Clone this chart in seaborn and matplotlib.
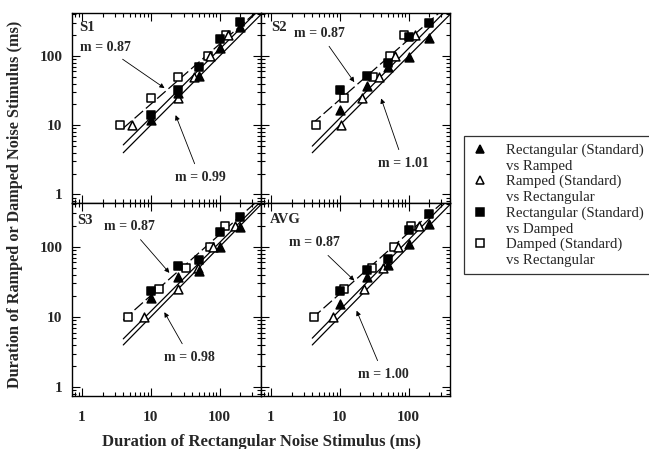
import numpy as np
import pandas as pd
import matplotlib
matplotlib.use("Agg")
import matplotlib.pyplot as plt
from matplotlib.lines import Line2D
import seaborn as sns

sns.set_style("ticks")
plt.rcParams["font.family"] = ["Liberation Serif", "DejaVu Serif"]

# ---------------- data ----------------
panels = ["S1", "S2", "S3", "AVG"]
standard = [10, 25, 50, 100, 200]          # standard durations (ms)

# Rectangular (Standard) vs Ramped: x = standard, y = matched ramped
rect_ramp_y = {
    "S1": [12, 29, 51, 129, 265],
    "S2": [16.5, 37, 70, 97, 182],
    "S3": [18.5, 37.7, 45, 99, 190],
    "AVG": [15.3, 37, 55, 108, 210],
}
# Ramped (Standard) vs Rectangular: y = standard, x = matched rectangular
ramp_rect_x = {
    "S1": [5.4, 25, 43, 72, 134],
    "S2": [10.6, 20.8, 37, 64, 126],
    "S3": [8.0, 24.7, 49, 80, 168],
    "AVG": [8.0, 22.8, 42, 71, 140],
}
# Rectangular (Standard) vs Damped: x = standard, y = matched damped
rect_damp_y = {
    "S1": [14, 32, 70, 174, 310],
    "S2": [32, 51, 80, 190, 300],
    "S3": [23.8, 54, 65, 162, 265],
    "AVG": [23.8, 47, 67, 175, 290],
}
# Damped (Standard) vs Rectangular: y = standard, x = matched rectangular
damp_rect_x = {
    "S1": [3.6, 10, 25, 68, 125],
    "S2": [4.6, 11.6, 30, 54, 85],
    "S3": [4.7, 13.3, 33, 72, 119],
    "AVG": [4.3, 11.6, 29, 62, 108],
}

slope_damped = {"S1": 0.87, "S2": 0.87, "S3": 0.87, "AVG": 0.87}
slope_ramped = {"S1": 0.99, "S2": 1.01, "S3": 0.98, "AVG": 1.00}

# annotation positions (text centre, arrow tip) in data units
ann_damped = {
    "S1": ((2.17, 135), (15.9, 34.4)),
    "S2": ((5.14, 215), (16.3, 42)),
    "S3": ((4.89, 193), (18.7, 42.5)),
    "AVG": ((4.35, 114), (16.3, 33)),
}
ann_ramped = {
    "S1": ((52, 1.76), (23, 14)),
    "S2": ((84.6, 2.81), (40, 24.4)),
    "S3": ((37, 2.68), (15.8, 11.7)),
    "AVG": ((43, 1.53), (17.6, 12.3)),
}

series_names = [
    "Rectangular (Standard)\nvs Ramped",
    "Ramped (Standard)\nvs Rectangular",
    "Rectangular (Standard)\nvs Damped",
    "Damped (Standard)\nvs Rectangular",
]

rows = []
for p in panels:
    for sx, sy in zip(standard, rect_ramp_y[p]):
        rows.append((p, series_names[0], sx, sy))
    for sx, sy in zip(ramp_rect_x[p], standard):
        rows.append((p, series_names[1], sx, sy))
    for sx, sy in zip(standard, rect_damp_y[p]):
        rows.append((p, series_names[2], sx, sy))
    for sx, sy in zip(damp_rect_x[p], standard):
        rows.append((p, series_names[3], sx, sy))
df = pd.DataFrame(rows, columns=["panel", "series", "x", "y"])

styles = {
    series_names[0]: dict(marker="^", color="black", edgecolor="black"),
    series_names[1]: dict(marker="^", color="white", edgecolor="black"),
    series_names[2]: dict(marker="s", color="black", edgecolor="black"),
    series_names[3]: dict(marker="s", color="white", edgecolor="black"),
}
draw_order = [series_names[3], series_names[1], series_names[2], series_names[0]]

# ---------------- figure ----------------
W, H = 649, 449
fig = plt.figure(figsize=(W / 100, H / 100), dpi=100)
pw = 189 / W
lefts = [72 / W, 261 / W]
top_b, top_h = 1 - 203 / H, 190 / H
bot_b, bot_h = 1 - 396 / H, 193 / H
boxes = {
    "S1": [lefts[0], top_b, pw, top_h],
    "S2": [lefts[1], top_b, pw, top_h],
    "S3": [lefts[0], bot_b, pw, bot_h],
    "AVG": [lefts[1], bot_b, pw, bot_h],
}
label_pos = {"S1": (0.04, 0.925), "S2": (0.055, 0.925),
             "S3": (0.03, 0.91), "AVG": (0.045, 0.915)}

tick_font = dict(family=["Liberation Serif"], weight="bold", size=11)

for p in panels:
    ax = fig.add_axes(boxes[p])
    ax.set_xscale("log")
    ax.set_yscale("log")
    ax.set_xlim(0.72, 400)
    ax.set_ylim(0.75, 420)

    sub = df[df.panel == p]
    # regression lines (slopes as reported, through the centroid of each pair)
    xs = np.array([4.0, 450.0])
    tri = sub[sub.series.isin(series_names[:2])]
    sq = sub[sub.series.isin(series_names[2:])]
    lx_t, ly_t = np.log10(tri.x).mean(), np.log10(tri.y).mean()
    lx_s, ly_s = np.log10(sq.x).mean(), np.log10(sq.y).mean()
    mr, md = slope_ramped[p], slope_damped[p]
    y_r = 10 ** (ly_t + mr * (np.log10(xs) - lx_t))
    y_d = 10 ** (ly_s + md * (np.log10(xs) - lx_s))
    ax.plot(xs, xs, color="black", lw=0.9)
    ax.plot(xs, y_r, color="black", lw=0.9)
    ax.plot(xs, y_d, color="black", lw=0.9, dashes=(9, 3))

    for s in draw_order:
        d = sub[sub.series == s]
        sns.scatterplot(data=d, x="x", y="y", ax=ax, s=40, linewidth=1.1,
                        legend=False, zorder=5, **styles[s])

    # annotations
    (tx, ty), (ax_, ay_) = ann_damped[p]
    ax.annotate(f"m = {md:.2f}", xy=(ax_, ay_), xytext=(tx, ty),
                ha="center", va="center", fontsize=10, fontweight="bold",
                arrowprops=dict(arrowstyle="-|>", lw=0.6, color="black",
                                mutation_scale=7, shrinkA=3, shrinkB=0))
    (tx, ty), (ax_, ay_) = ann_ramped[p]
    ax.annotate(f"m = {mr:.2f}", xy=(ax_, ay_), xytext=(tx, ty),
                ha="center", va="center", fontsize=10, fontweight="bold",
                arrowprops=dict(arrowstyle="-|>", lw=0.6, color="black",
                                mutation_scale=7, shrinkA=3, shrinkB=0))

    ax.text(*label_pos[p], p, transform=ax.transAxes, ha="left", va="center",
            fontsize=10.5, fontweight="bold")

    ax.set_xlabel("")
    ax.set_ylabel("")
    ax.tick_params(which="both", direction="in", top=True, right=True,
                   color="black", width=0.8)
    ax.tick_params(which="major", length=5.5)
    ax.tick_params(which="minor", length=3)
    ax.tick_params(axis="x", pad=11)
    ax.tick_params(axis="y", pad=7)
    ax.set_xticks([1, 10, 100])
    ax.set_yticks([1, 10, 100])
    ax.set_xticklabels(["1", "10", "100"], fontdict=tick_font)
    ax.set_yticklabels(["1", "10", "100"], fontdict=tick_font)
    if p in ("S1", "S2"):
        ax.tick_params(axis="x", labelbottom=False)
    if p in ("S2", "AVG"):
        ax.tick_params(axis="y", labelleft=False)
    for sp in ax.spines.values():
        sp.set_color("black")
        sp.set_linewidth(1.0)

fig.text(261 / W, 1 - 442 / H, "Duration of Rectangular Noise Stimulus (ms)",
         ha="center", va="center", fontsize=12, fontweight="bold")
fig.text(15 / W, 1 - 204 / H, "Duration of Ramped or Damped Noise Stimulus (ms)",
         ha="center", va="center", rotation=90, fontsize=11.7, fontweight="bold")

# legend
handles, labels = [], []
mk = {0: ("^", "black"), 1: ("^", "white"), 2: ("s", "black"), 3: ("s", "white")}
for i, name in enumerate(series_names):
    m, fc = mk[i]
    first, second = name.split("\n")
    handles.append(Line2D([], [], marker=m, markerfacecolor=fc,
                          markeredgecolor="black", linestyle="none", ms=6,
                          markeredgewidth=1.1))
    labels.append(first)
    handles.append(Line2D([], [], linestyle="none"))
    labels.append(second)
leg = fig.legend(handles, labels, loc="upper left",
                 bbox_to_anchor=(464 / W, 1 - 136 / H),
                 prop=dict(family=["Liberation Serif"], size=10.7),
                 frameon=True, fancybox=False, labelspacing=0.15,
                 handlelength=1.2, handletextpad=1.1, borderpad=0.5,
                 borderaxespad=0)
leg.get_frame().set_edgecolor("black")
leg.get_frame().set_linewidth(0.9)

fig.savefig("out.png", dpi=100)
